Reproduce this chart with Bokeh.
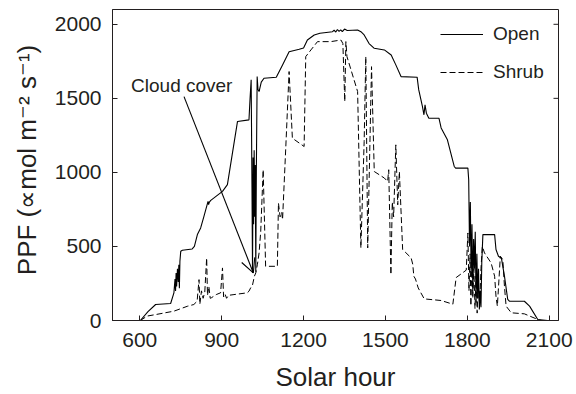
from bokeh.plotting import figure
from bokeh.models import (Legend, LegendItem, Label, Arrow, OpenHead, Range1d, FixedTicker)
from bokeh.embed import file_html
from bokeh.resources import INLINE

# ---- data ----
open_x = [535, 602, 630, 658, 713, 725, 729, 731, 733, 735, 738, 741, 743, 745, 747, 750, 756,
          792, 800, 811, 823, 835, 850, 852, 855, 860, 903, 921, 958, 1000, 1004, 1008, 1011,
          1013, 1015, 1017, 1019, 1021, 1023, 1025, 1027, 1030, 1033, 1037, 1045, 1055, 1100,
          1123, 1147, 1184, 1200, 1214, 1239, 1260, 1306, 1312, 1318, 1324, 1330, 1336, 1342,
          1350, 1360, 1398, 1410, 1422, 1440, 1459, 1496, 1521, 1538, 1557, 1616, 1622, 1635,
          1641, 1645, 1650, 1659, 1696, 1704, 1727, 1752, 1757, 1802, 1805, 1808, 1811, 1814,
          1817, 1820, 1823, 1826, 1829, 1832, 1835, 1838, 1841, 1844, 1847, 1850, 1853, 1857,
          1900, 1905, 1914, 1925, 1936, 1948, 1954, 2009, 2028, 2058, 2094]
open_y = [0, 0, 60, 108, 115, 187, 280, 200, 320, 230, 350, 260, 377, 218, 400, 467, 474,
          483, 500, 580, 625, 703, 804, 782, 800, 811, 872, 917, 1344, 1355, 1500, 1625, 900,
          321, 1100, 650, 1150, 700, 1050, 330, 1000, 1647, 1560, 1546, 1610, 1636, 1643,
          1726, 1815, 1831, 1840, 1894, 1928, 1940, 1950, 1960, 1948, 1965, 1952, 1962, 1950,
          1968, 1958, 1962, 1950, 1928, 1870, 1838, 1827, 1793, 1726, 1647, 1643, 1557, 1450,
          1389, 1456, 1400, 1366, 1366, 1300, 1220, 1040, 1029, 1029, 950, 500, 800, 300,
          650, 200, 550, 350, 600, 120, 450, 150, 350, 74, 200, 90, 400, 580,
          580, 479, 434, 420, 300, 142, 130, 130, 97, 7, 0]

shrub_x = [535, 602, 627, 658, 725, 774, 798, 810, 817, 820, 826, 832, 838, 845, 848, 853,
           858, 862, 880, 896, 903, 907, 912, 918, 925, 945, 994, 1000, 1006, 1013, 1020, 1025,
           1031, 1037, 1043, 1052, 1061, 1104, 1108, 1114, 1120, 1123, 1135, 1147, 1159, 1202,
           1208, 1227, 1251, 1300, 1337, 1344, 1351, 1355, 1359, 1398, 1410, 1422, 1428, 1435,
           1449, 1459, 1496, 1508, 1512, 1520, 1525, 1530, 1538, 1545, 1551, 1563, 1594, 1600,
           1604, 1610, 1620, 1642, 1704, 1747, 1759, 1796, 1802, 1806, 1810, 1813, 1817, 1820,
           1824, 1828, 1832, 1836, 1840, 1845, 1850, 1855, 1863, 1887, 1900, 1905, 1910, 1921,
           1930, 1936, 1942, 1961, 2009, 2058, 2070]
shrub_y = [0, 0, 30, 40, 63, 96, 108, 130, 276, 110, 200, 150, 190, 422, 170, 230,
           150, 153, 175, 187, 355, 160, 180, 150, 170, 175, 187, 198, 220, 240, 300, 321,
           380, 456, 600, 1018, 366, 366, 793, 700, 730, 681, 1175, 1681, 1231, 1175,
           1782, 1827, 1883, 1883, 1894, 1870, 1479, 1883, 1782, 1546, 490, 1209, 1782, 490,
           1714, 1006, 962, 939, 1018, 310, 800, 700, 1186, 781, 1006, 479, 423, 380,
           299, 280, 220, 146, 135, 110, 290, 340, 591, 200, 450, 100, 400, 150,
           350, 80, 300, 50, 250, 100, 350, 500, 456, 389, 299, 164, 97, 434,
           411, 231, 97, 52, 45, 7, 0]

x_ticks = [600, 900, 1200, 1500, 1800, 2100]
y_ticks = [0, 500, 1000, 1500, 2000]
series_names = ["Open", "Shrub"]
x_title = "Solar hour"
y_title = "PPF (\u221dmol m\u207b\u00b2 s\u207b\u00b9)"
annotation_text = "Cloud cover"

assert len(open_x) == len(open_y)
assert len(shrub_x) == len(shrub_y)

INK = "#231f20"
FONT = "Liberation Sans"
X0, X1 = 500, 2134
Y0, Y1 = 0, 2100

p = figure(width=576, height=394, output_backend="svg", toolbar_location=None,
           x_range=Range1d(X0, X1), y_range=Range1d(Y0, Y1),
           min_border_left=112, min_border_right=18, min_border_top=9, min_border_bottom=73)
p.background_fill_color = "white"
p.border_fill_color = "white"
p.grid.visible = False
p.outline_line_color = INK
p.outline_line_width = 1

r_open = p.line(open_x, open_y, line_color="black", line_width=1.1)
r_shrub = p.line(shrub_x, shrub_y, line_color="black", line_width=1.0, line_dash="6 3")

for ax in (p.xaxis[0], p.yaxis[0]):
    ax.major_tick_in = 5
    ax.major_tick_out = 0
    ax.minor_tick_line_color = None
    ax.axis_line_color = INK
    ax.major_tick_line_color = INK
    ax.major_label_text_font = FONT
    ax.major_label_text_font_size = "21px"
    ax.major_label_text_color = INK
    ax.axis_label_text_font = FONT
    ax.axis_label_text_font_size = "26px"
    ax.axis_label_text_font_style = "normal"
    ax.axis_label_text_color = INK

p.xaxis.ticker = FixedTicker(ticks=x_ticks)
p.yaxis.ticker = FixedTicker(ticks=y_ticks)
p.xaxis.axis_label = x_title
p.yaxis.axis_label = y_title
p.xaxis.major_label_standoff = 12
p.yaxis.major_label_standoff = 11
p.xaxis.axis_label_standoff = 12
p.yaxis.axis_label_standoff = 10

# inward ticks on the right edge of the frame
p.ray(x=[X1] * len(y_ticks), y=y_ticks, length=5, length_units="screen",
      angle=180, angle_units="deg", line_color=INK, line_width=1)

legend = Legend(items=[LegendItem(label=series_names[0], renderers=[r_open]),
                       LegendItem(label=series_names[1], renderers=[r_shrub])],
                location=(328, 233))
legend.background_fill_alpha = 0
legend.border_line_color = None
legend.padding = 0
legend.margin = 0
legend.spacing = 8
legend.glyph_width = 43
legend.glyph_height = 30
legend.label_height = 30
legend.label_standoff = 10
legend.label_text_font = FONT
legend.label_text_font_size = "19px"
legend.label_text_color = INK
p.add_layout(legend, "center")

p.add_layout(Label(x=568, y=1584, text=annotation_text, text_font=FONT,
                   text_font_size="19px", text_color=INK, text_baseline="middle"))
p.add_layout(Arrow(x_start=762, y_start=1512, x_end=1016, y_end=321,
                   line_color="black", line_width=1.1,
                   end=OpenHead(size=14, line_color="black", line_width=1.1)))

open("out.html", "w").write(file_html(p, INLINE))
